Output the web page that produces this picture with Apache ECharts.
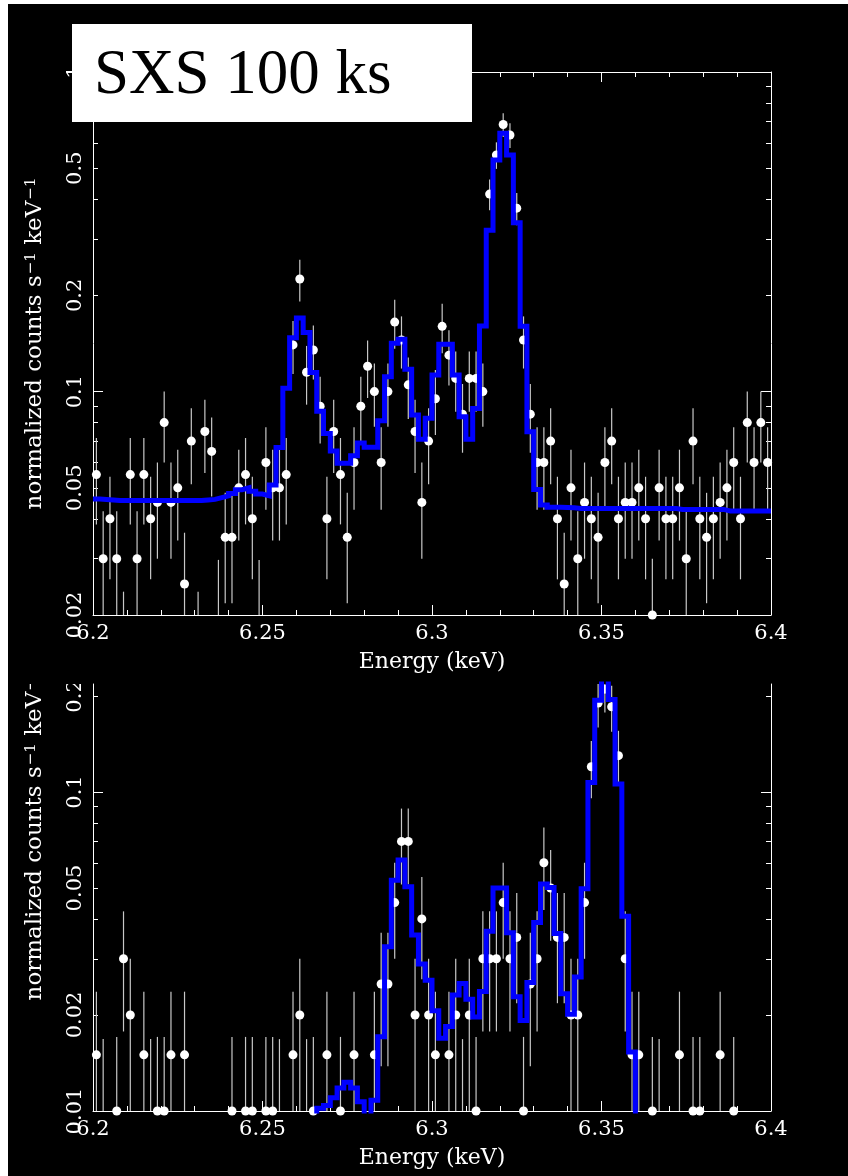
<!DOCTYPE html>
<html>
<head>
<meta charset="utf-8">
<script src="https://cdn.jsdelivr.net/npm/echarts@6/dist/echarts.min.js"></script>
<style>
html,body{margin:0;padding:0;background:#ffffff;width:848px;height:1176px;overflow:hidden}
#chart{position:absolute;left:8px;top:4px;width:840px;height:1172px;background:#000000}
</style>
</head>
<body>
<div id="chart"></div>
<script>
// ---------------- data ----------------
const energyRange = [6.2, 6.4];          // keV
const binWidth = 0.002;                   // keV per spectral bin
const countRate = 0.005;                  // normalized rate of one count (Poisson errors)

const topObserved = [
  0.055, 0.03, 0.04, 0.03, 0.015, 0.055, 0.03, 0.055, 0.04, 0.045,
  0.08, 0.045, 0.05, 0.025, 0.07, 0.015, 0.075, 0.065, 0.0198, 0.035,
  0.035, 0.05, 0.055, 0.04, 0.0198, 0.06, 0.05, 0.05, 0.055, 0.14,
  0.225, 0.115, 0.135, 0.09, 0.04, 0.075, 0.055, 0.035, 0.06, 0.09,
  0.12, 0.10, 0.06, 0.10, 0.165, 0.145, 0.105, 0.075, 0.045, 0.07,
  0.095, 0.16, 0.13, 0.11, 0.085, 0.11, 0.11, 0.10, 0.415, 0.55,
  0.685, 0.635, 0.375, 0.145, 0.085, 0.06, 0.06, 0.07, 0.04, 0.025,
  0.05, 0.03, 0.045, 0.04, 0.035, 0.06, 0.07, 0.04, 0.045, 0.045,
  0.05, 0.04, 0.02, 0.05, 0.04, 0.04, 0.05, 0.03, 0.07, 0.04,
  0.035, 0.04, 0.045, 0.05, 0.06, 0.04, 0.08, 0.06, 0.08, 0.06
];
const topModel = [
  0.0461, 0.046, 0.0458, 0.0456, 0.0456, 0.0456, 0.0456, 0.0456, 0.0456, 0.0456,
  0.0456, 0.0456, 0.0456, 0.0456, 0.0456, 0.0456, 0.0458, 0.046, 0.0466, 0.0472,
  0.048, 0.0493, 0.050, 0.0488, 0.0478, 0.0472, 0.051, 0.0669, 0.1024, 0.1475,
  0.170, 0.153, 0.1148, 0.0868, 0.074, 0.0652, 0.0597, 0.0597, 0.063, 0.069,
  0.067, 0.067, 0.081, 0.1113, 0.1416, 0.1457, 0.1174, 0.0845, 0.0709, 0.0825,
  0.1127, 0.1406, 0.1406, 0.1127, 0.0834, 0.0709, 0.0886, 0.1604, 0.320, 0.530,
  0.643, 0.550, 0.3377, 0.160, 0.0749, 0.0494, 0.0442, 0.0435, 0.0435, 0.0434,
  0.0433, 0.0431, 0.0431, 0.0431, 0.0431, 0.0431, 0.0431, 0.0431, 0.0431, 0.0431,
  0.0431, 0.0431, 0.0431, 0.0431, 0.0431, 0.0431, 0.0428, 0.0428, 0.0428, 0.0428,
  0.0428, 0.0428, 0.0428, 0.0423, 0.0423, 0.0423, 0.0423, 0.0423, 0.0423, 0.0423
];
const bottomObserved = [
  0.015, 0.0098, null, 0.01, 0.03, 0.02, null, 0.015, 0.0098, 0.01,
  0.01, 0.015, null, 0.015, null, null, null, null, null, null,
  0.01, null, 0.01, 0.01, null, 0.01, 0.01, 0.0098, null, 0.015,
  0.02, 0.0098, 0.01, null, 0.015, null, 0.01, null, 0.015, null,
  null, 0.015, 0.025, 0.025, 0.045, 0.07, 0.07, 0.02, 0.04, 0.02,
  0.015, null, 0.015, 0.02, 0.0098, 0.02, 0.01, 0.03, 0.03, 0.03,
  0.045, 0.03, 0.035, 0.01, 0.025, 0.03, 0.06, 0.05, 0.035, 0.035,
  0.02, 0.02, 0.045, 0.12, 0.19, 0.21, 0.185, 0.13, 0.03, 0.015,
  0.015, null, 0.01, 0.0098, null, null, 0.015, null, 0.01, 0.01,
  null, null, 0.015, null, 0.01, null, null, null, null, null
];
const bottomModel = [
  0.006, 0.006, 0.006, 0.006, 0.006, 0.006, 0.006, 0.006, 0.006, 0.006,
  0.006, 0.006, 0.006, 0.006, 0.006, 0.006, 0.006, 0.006, 0.006, 0.006,
  0.006, 0.006, 0.006, 0.006, 0.006, 0.006, 0.006, 0.006, 0.006, 0.006,
  0.006, 0.006, 0.006, 0.0102, 0.0104, 0.0110, 0.0118, 0.0123, 0.0118, 0.0107,
  0.0095, 0.0108, 0.0171, 0.0327, 0.0529, 0.0612, 0.0505, 0.0356, 0.0289, 0.0257,
  0.0206, 0.0169, 0.0184, 0.0231, 0.0251, 0.0224, 0.0197, 0.0237, 0.0366, 0.050,
  0.050, 0.0362, 0.0228, 0.0192, 0.0253, 0.039, 0.0515, 0.0502, 0.036, 0.0233,
  0.0201, 0.0263, 0.0497, 0.107, 0.194, 0.235, 0.195, 0.106, 0.0408, 0.0153,
  0.006, 0.006, 0.006, 0.006, 0.006, 0.006, 0.006, 0.006, 0.006, 0.006,
  0.006, 0.006, 0.006, 0.006, 0.006, 0.006, 0.006, 0.006, 0.006, 0.006
];

const xLabelValues = [6.2, 6.25, 6.3, 6.35, 6.4];
const xMajorTicks = [6.2, 6.25, 6.3, 6.35, 6.4];
const xMinorTicks = [6.21, 6.22, 6.23, 6.24, 6.26, 6.27, 6.28, 6.29, 6.31, 6.32, 6.33, 6.34, 6.36, 6.37, 6.38, 6.39];

const topYRange = [0.02, 1];
const topYLabels = [0.02, 0.05, 0.1, 0.2, 0.5, 1];
const topYMajorTicks = [0.1, 1];
const topYMinorTicks = [0.02, 0.03, 0.04, 0.05, 0.06, 0.07, 0.08, 0.09, 0.2, 0.3, 0.4, 0.5, 0.6, 0.7, 0.8, 0.9];

const bottomYRange = [0.01, 0.218];
const bottomYLabels = [0.01, 0.02, 0.05, 0.1, 0.2];
const bottomYMajorTicks = [0.01, 0.1];
const bottomYMinorTicks = [0.02, 0.03, 0.04, 0.05, 0.06, 0.07, 0.08, 0.09, 0.2];

const xTitle = 'Energy (keV)';
const yTitle = 'normalized counts s{sup|\u22121} keV{sup|\u22121}';
const boxTitle = 'SXS 100 ks';

// ---------------- helpers ----------------
const FONT = 'DejaVu Serif';
const WHITE = '#ffffff';
const BLUE = '#0000ff';
const BAR = '#c8c8c8';

const binCenters = topObserved.map((_, k) => +(energyRange[0] + binWidth * (k + 0.5)).toFixed(4));
const binEdges = topModel.map((_, k) => +(energyRange[0] + binWidth * k).toFixed(4)).concat([energyRange[1]]);

function sigma(v) { return Math.sqrt(v / countRate) * countRate; }
function pointsOf(obs) {
  return obs.map((v, k) => v == null ? null : [binCenters[k], v]).filter(Boolean);
}
function errorsOf(obs, range) {
  const out = [];
  obs.forEach((v, k) => {
    if (v == null) return;
    const s = sigma(v);
    const hi = Math.min(v + s, range[1]);
    const lo = Math.max(v - s, range[0]);
    if (hi <= range[0]) return;
    out.push([binCenters[k], lo, hi, v]);
  });
  return out;
}
function modelOf(model) {
  const d = model.map((v, k) => [binEdges[k], v]);
  d.push([binEdges[model.length], model[model.length - 1]]);
  return d;
}
const fmtX = v => String(Math.round(v * 100) / 100);
const fmtY = v => String(Math.round(v * 1000) / 1000);
const tickLine = { color: WHITE, width: 1 };

function xAxesFor(grid, withTop) {
  const common = { type: 'value', gridIndex: grid, min: energyRange[0], max: energyRange[1], splitLine: { show: false } };
  const list = [
    Object.assign({}, common, {
      position: 'bottom', name: xTitle, nameLocation: 'middle', nameGap: 36,
      nameTextStyle: { color: WHITE, fontFamily: FONT, fontSize: 22 },
      axisLine: { show: true, onZero: false, lineStyle: tickLine },
      axisTick: { show: true, inside: true, length: 10, customValues: xMajorTicks, lineStyle: tickLine },
      axisLabel: { show: true, customValues: xLabelValues, formatter: fmtX, color: WHITE, fontFamily: FONT, fontSize: 21, margin: 8 }
    }),
    Object.assign({}, common, {
      position: 'bottom',
      axisLine: { show: false, onZero: false },
      axisTick: { show: true, inside: true, length: 5, customValues: xMinorTicks, lineStyle: tickLine },
      axisLabel: { show: false }
    })
  ];
  if (withTop) {
    list.push(Object.assign({}, common, {
      position: 'top',
      axisLine: { show: true, onZero: false, lineStyle: tickLine },
      axisTick: { show: true, inside: true, length: 10, customValues: xMajorTicks, lineStyle: tickLine },
      axisLabel: { show: false }
    }));
    list.push(Object.assign({}, common, {
      position: 'top',
      axisLine: { show: false, onZero: false },
      axisTick: { show: true, inside: true, length: 5, customValues: xMinorTicks, lineStyle: tickLine },
      axisLabel: { show: false }
    }));
  }
  return list;
}

function yAxesFor(grid, range, labels, major, minor, namePad) {
  const common = { type: 'log', logBase: 10, gridIndex: grid, min: range[0], max: range[1], splitLine: { show: false } };
  return [
    Object.assign({}, common, {
      position: 'left', name: yTitle, nameLocation: 'middle', nameGap: 46,
      nameTextStyle: {
        color: WHITE, fontFamily: FONT, fontSize: 23, padding: namePad,
        rich: { sup: { color: WHITE, fontFamily: FONT, fontSize: 15, verticalAlign: 'top', lineHeight: 15, padding: [0, 0, 10, 1] } }
      },
      axisLine: { show: true, onZero: false, lineStyle: tickLine },
      axisTick: { show: true, inside: true, length: 10, customValues: major, lineStyle: tickLine },
      axisLabel: { show: true, customValues: labels, formatter: fmtY, rotate: 90, color: WHITE, fontFamily: FONT, fontSize: 21, margin: 7 }
    }),
    Object.assign({}, common, {
      position: 'left',
      axisLine: { show: false, onZero: false },
      axisTick: { show: true, inside: true, length: 5, customValues: minor, lineStyle: tickLine },
      axisLabel: { show: false }
    }),
    Object.assign({}, common, {
      position: 'right',
      axisLine: { show: true, onZero: false, lineStyle: tickLine },
      axisTick: { show: true, inside: true, length: 10, customValues: major, lineStyle: tickLine },
      axisLabel: { show: false }
    }),
    Object.assign({}, common, {
      position: 'right',
      axisLine: { show: false, onZero: false },
      axisTick: { show: true, inside: true, length: 5, customValues: minor, lineStyle: tickLine },
      axisLabel: { show: false }
    })
  ];
}

function errorSeries(xi, yi, data) {
  return {
    type: 'custom', xAxisIndex: xi, yAxisIndex: yi, data: data, clip: true, silent: true, z: 2,
    encode: { x: 0, y: [1, 2] },
    renderItem: function (params, api) {
      const e = api.value(0), lo = api.value(1), hi = api.value(2);
      const a = api.coord([e, lo]);
      const b = api.coord([e, hi]);
      return {
        type: 'line', shape: { x1: a[0], y1: a[1], x2: b[0], y2: b[1] },
        style: { stroke: BAR, lineWidth: 1.2 }
      };
    }
  };
}
function pointSeries(xi, yi, data) {
  return {
    type: 'scatter', xAxisIndex: xi, yAxisIndex: yi, data: data, clip: true, silent: true, z: 3,
    symbol: 'circle', symbolSize: 9, itemStyle: { color: WHITE, borderWidth: 0, opacity: 1 }
  };
}
function modelSeries(xi, yi, data) {
  return {
    type: 'line', xAxisIndex: xi, yAxisIndex: yi, data: data, step: 'end', clip: true, silent: true, z: 4,
    showSymbol: false, symbol: 'none', lineStyle: { color: BLUE, width: 5, join: 'miter' }, animation: false
  };
}

const chart = echarts.init(document.getElementById('chart'), null, { renderer: 'canvas' });
const option = {
  animation: false,
  backgroundColor: '#000000',
  grid: [
    { left: 85, top: 68, width: 678, height: 543 },
    { left: 85, top: 680, width: 678, height: 427 }
  ],
  xAxis: xAxesFor(0, true).concat(xAxesFor(1, false)),
  yAxis: yAxesFor(0, topYRange, topYLabels, topYMajorTicks, topYMinorTicks, [0, 0, 0, 0])
    .concat(yAxesFor(1, bottomYRange, bottomYLabels, bottomYMajorTicks, bottomYMinorTicks, [0, 0, 0, 126])),
  series: [
    errorSeries(0, 0, errorsOf(topObserved, topYRange)),
    pointSeries(0, 0, pointsOf(topObserved)),
    modelSeries(0, 0, modelOf(topModel)),
    errorSeries(4, 4, errorsOf(bottomObserved, bottomYRange)),
    pointSeries(4, 4, pointsOf(bottomObserved)),
    modelSeries(4, 4, modelOf(bottomModel))
  ],
  graphic: [
    { type: 'rect', z: 100, shape: { x: 2, y: 646, width: 81, height: 34 }, style: { fill: '#000000' } },
    { type: 'rect', z: 100, shape: { x: 64, y: 20, width: 400, height: 98 }, style: { fill: '#ffffff' } },
    { type: 'text', z: 101, x: 86, y: 72, style: { text: boxTitle, fill: '#000000', font: '63px "Liberation Serif"', textAlign: 'left', textVerticalAlign: 'middle' } }
  ]
};
chart.setOption(option);
</script>
</body>
</html>
